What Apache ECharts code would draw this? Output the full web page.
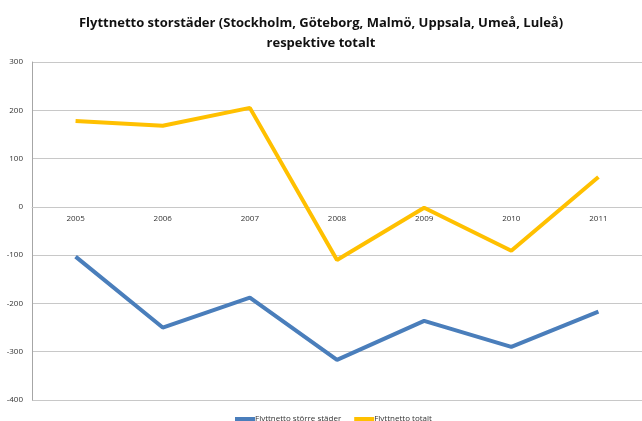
<!DOCTYPE html>
<html>
<head>
<meta charset="utf-8">
<style>
html, body { margin:0; padding:0; background:#fff; }
#main { width:642px; height:421px; }
</style>
</head>
<body>
<div id="main"></div>
<script src="https://cdn.jsdelivr.net/npm/echarts@6/dist/echarts.min.js"></script>
<script>
var years = ['2005', '2006', '2007', '2008', '2009', '2010', '2011'];
var storre = [-103, -250, -188, -317, -236, -290, -217];
var totalt = [178, 168, 205, -110, -2, -91, 62];
var seriesNames = ['Flyttnetto större städer', 'Flyttnetto totalt'];

var chart = echarts.init(document.getElementById('main'));
// grid: top 62, height 338 -> zero line sits 3/7 down
var gridTop = 62, gridBottom = 21;
var gridH = 421 - gridTop - gridBottom;
var zeroOffset = -(gridH * 4 / 7);

var titleFont = {
    fontFamily: 'Open Sans',
    fontWeight: 'bold',
    fontSize: 13,
    lineHeight: 16,
    color: '#111'
};

var option = {
    animation: false,
    title: {
        text: 'Flyttnetto storstäder (Stockholm, Göteborg, Malmö, Uppsala, Umeå, Luleå)',
        subtext: 'respektive totalt',
        left: 'center',
        top: 15,
        itemGap: 4,
        padding: 0,
        textStyle: titleFont,
        subtextStyle: titleFont
    },
    legend: {
        data: seriesNames,
        top: 410,
        left: 230,
        itemWidth: 20,
        itemHeight: 4,
        itemGap: 13,
        icon: 'rect',
        textStyle: { fontSize: 8, fontFamily: 'Open Sans', color: '#333', padding: [0, 0, 0, -5] }
    },
    grid: {
        left: 32,
        right: 0,
        top: gridTop,
        bottom: gridBottom,
        containLabel: false
    },
    xAxis: {
        type: 'category',
        data: years,
        boundaryGap: true,
        offset: zeroOffset,
        axisLine: { onZero: false, lineStyle: { color: '#c8c8c8' } },
        axisTick: { show: false },
        axisLabel: { fontSize: 8, fontFamily: 'Open Sans', color: '#333', margin: 8 }
    },
    yAxis: {
        type: 'value',
        min: -400,
        max: 300,
        interval: 100,
        axisLine: { show: true, lineStyle: { color: '#a6a6a6' } },
        axisTick: { show: false },
        splitLine: { lineStyle: { color: '#c8c8c8' } },
        axisLabel: { fontSize: 8, fontFamily: 'Open Sans', color: '#333', margin: 9 }
    },
    series: [
        {
            name: seriesNames[0],
            type: 'line',
            data: storre,
            symbol: 'none',
            lineStyle: { width: 4, color: '#4a7ebb' },
            itemStyle: { color: '#4a7ebb' }
        },
        {
            name: seriesNames[1],
            type: 'line',
            data: totalt,
            symbol: 'none',
            lineStyle: { width: 4, color: '#ffc000' },
            itemStyle: { color: '#ffc000' }
        }
    ]
};
chart.setOption(option);
</script>
</body>
</html>
